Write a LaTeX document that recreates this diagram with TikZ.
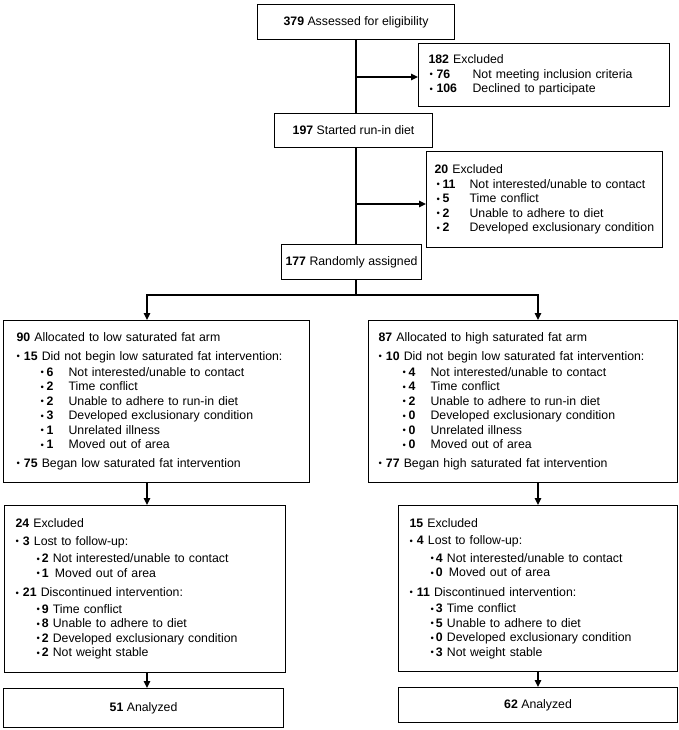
\documentclass[tikz,border=0pt]{standalone}
\usepackage{fontspec}
\setmainfont{Liberation Sans}
\usetikzlibrary{arrows.meta}
\newcommand\bul{\raisebox{0.6pt}{\fontsize{9.5}{9.5}\selectfont\char"2022}}
% indent, bullet box width, number box width, number, text
\newcommand\ent[5]{\hspace*{#1}\makebox[#2][l]{\bul}\makebox[#3][l]{\textbf{#4}}#5}
\newcommand\tl[2]{\bul\ \textbf{#1} #2}
\begin{document}
\begin{tikzpicture}[x=1pt,y=-1pt,
  every node/.style={font=\fontsize{12.3}{14.5}\selectfont},
  boxc/.style={draw, line width=1.1pt, inner sep=2pt, align=center, anchor=north west},
  boxl/.style={draw, line width=1.1pt, inner ysep=0pt, align=left, anchor=north west},
  conn/.style={line width=1.3pt},
  arr/.style={line width=1.3pt, -{Triangle[length=7pt,width=6.5pt]}}]
\path[use as bounding box] (0,0) rectangle (679,730);

% top chain
\node[boxc, minimum width=197pt, minimum height=35pt] (A) at (257,4) {\textbf{379} Assessed for eligibility};
\node[boxl, minimum height=63pt, inner xsep=10pt, text width=231pt] (B) at (418,43) {%
\textbf{182} Excluded\\
\ent{1pt}{7pt}{36pt}{76}{Not meeting inclusion criteria}\\
\ent{1pt}{7pt}{36pt}{106}{Declined to participate}};
\node[boxc, minimum width=158pt, minimum height=34pt] (C) at (274,113) {\textbf{197} Started run-in diet};
\node[boxl, minimum height=96pt, inner xsep=8pt, text width=220pt] (D) at (426,151) {%
\textbf{20} Excluded\\
\ent{2pt}{6pt}{27pt}{11}{Not interested/unable to contact}\\
\ent{2pt}{6pt}{27pt}{5}{Time conflict}\\
\ent{2pt}{6pt}{27pt}{2}{Unable to adhere to diet}\\
\ent{2pt}{6pt}{27pt}{2}{Developed exclusionary condition}};
\node[boxc, minimum width=140pt, minimum height=35pt] (E) at (281,244) {\textbf{177} Randomly assigned};

% arms
\node[boxl, minimum height=162pt, inner xsep=13pt, text width=280pt] (F) at (3,320) {%
\textbf{90} Allocated to low saturated fat arm\\[4pt]
\tl{15}{Did not begin low saturated fat intervention:}\\[1.5pt]
\ent{24pt}{6pt}{22pt}{6}{Not interested/unable to contact}\\
\ent{24pt}{6pt}{22pt}{2}{Time conflict}\\
\ent{24pt}{6pt}{22pt}{2}{Unable to adhere to run-in diet}\\
\ent{24pt}{6pt}{22pt}{3}{Developed exclusionary condition}\\
\ent{24pt}{6pt}{22pt}{1}{Unrelated illness}\\
\ent{24pt}{6pt}{22pt}{1}{Moved out of area}\\[4pt]
\tl{75}{Began low saturated fat intervention}};
\node[boxl, minimum height=162pt, inner xsep=10pt, text width=289pt] (G) at (368,320) {%
\textbf{87} Allocated to high saturated fat arm\\[4pt]
\tl{10}{Did not begin low saturated fat intervention:}\\[1.5pt]
\ent{24pt}{6pt}{22pt}{4}{Not interested/unable to contact}\\
\ent{24pt}{6pt}{22pt}{4}{Time conflict}\\
\ent{24pt}{6pt}{22pt}{2}{Unable to adhere to run-in diet}\\
\ent{24pt}{6pt}{22pt}{0}{Developed exclusionary condition}\\
\ent{24pt}{6pt}{22pt}{0}{Unrelated illness}\\
\ent{24pt}{6pt}{22pt}{0}{Moved out of area}\\[4pt]
\tl{77}{Began high saturated fat intervention}};

% excluded after intervention
\node[boxl, minimum height=167pt, inner xsep=11pt, text width=259pt] (F2) at (4,505) {%
\textbf{24} Excluded\\[3pt]
\tl{3}{Lost to follow-up:}\\[3pt]
\hspace*{21pt}\bul\,\textbf{2} Not interested/unable to contact\\
\hspace*{21pt}\bul\,\textbf{1}\, Moved out of area\\[5pt]
\tl{21}{Discontinued intervention:}\\[2pt]
\hspace*{21pt}\bul\,\textbf{9} Time conflict\\
\hspace*{21pt}\bul\,\textbf{8} Unable to adhere to diet\\
\hspace*{21pt}\bul\,\textbf{2} Developed exclusionary condition\\
\hspace*{21pt}\bul\,\textbf{2} Not weight stable};
\node[boxl, minimum height=166pt, inner xsep=11pt, text width=257pt] (G2) at (398,505) {%
\textbf{15} Excluded\\[3pt]
\tl{4}{Lost to follow-up:}\\[3pt]
\hspace*{21pt}\bul\,\textbf{4} Not interested/unable to contact\\
\hspace*{21pt}\bul\,\textbf{0}\, Moved out of area\\[5pt]
\tl{11}{Discontinued intervention:}\\[2pt]
\hspace*{21pt}\bul\,\textbf{3} Time conflict\\
\hspace*{21pt}\bul\,\textbf{5} Unable to adhere to diet\\
\hspace*{21pt}\bul\,\textbf{0} Developed exclusionary condition\\
\hspace*{21pt}\bul\,\textbf{3} Not weight stable};

% analyzed
\node[boxc, minimum width=280pt, minimum height=39pt] (F3) at (3,688) {\textbf{51} Analyzed};
\node[boxc, minimum width=279pt, minimum height=35pt] (G3) at (398,687) {\textbf{62} Analyzed};

% connectors
\coordinate (tx) at (356,0);
\coordinate (b1) at (356,77);
\coordinate (b2) at (356,204);
\coordinate (br) at (356,295);
\coordinate (lx) at (147,0);
\coordinate (rx) at (538,0);
\draw[conn] (A.south -| tx) -- (C.north -| tx);
\draw[arr] (b1) -- (b1 -| B.west);
\draw[conn] (C.south -| tx) -- (E.north -| tx);
\draw[arr] (b2) -- (b2 -| D.west);
\draw[conn] (E.south -| tx) -- (br);
\draw[arr] (br) -| (F.north -| lx);
\draw[arr] (br) -| (G.north -| rx);
\draw[arr] (F.south -| lx) -- (F2.north -| lx);
\draw[arr] (F2.south -| lx) -- (F3.north -| lx);
\draw[arr] (G.south -| rx) -- (G2.north -| rx);
\draw[arr] (G2.south -| rx) -- (G3.north -| rx);
\end{tikzpicture}
\end{document}
